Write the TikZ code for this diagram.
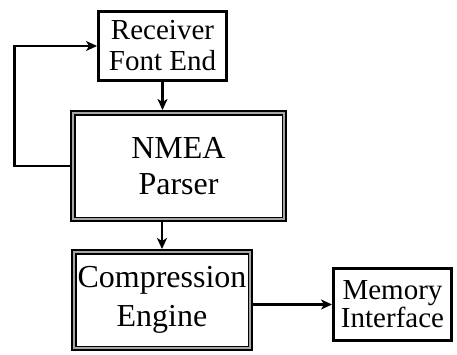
\documentclass[tikz,border=0pt]{standalone}
\usepackage{fontspec}
\setmainfont{Liberation Serif}
\usetikzlibrary{arrows.meta}
\tikzset{
  blk/.style={draw, line width=3pt, inner sep=0pt, align=center},
  bigblk/.style={draw, line width=4pt, inner sep=0pt, align=center},
  arr/.style={line width=2.6pt, -{Stealth[length=11pt, width=10pt, inset=3pt]}},
  fsmall/.style={font=\fontsize{29}{31}\selectfont},
  fbig/.style={font=\fontsize{32}{36}\selectfont},
}
% inner frame of a double-bordered block: gray band, then thin black line
\newcommand{\innerframe}[1]{%
  \draw[gray!70, line width=2pt] ([shift={(3pt,3pt)}]#1.south west) rectangle ([shift={(-3pt,-3pt)}]#1.north east);
  \draw[black, line width=1.4pt] ([shift={(4.8pt,4.8pt)}]#1.south west) rectangle ([shift={(-4.8pt,-4.8pt)}]#1.north east);
}
\begin{document}
\begin{tikzpicture}[x=1pt, y=1pt]
\useasboundingbox (0,0) rectangle (457,354);

\node[blk, fsmall, minimum width=128pt, minimum height=69pt] (rec) at (162.5,308) {Receiver\\Font End};
\node[bigblk, fbig, minimum width=213pt, minimum height=108pt] (nmea) at (178.5,188) {NMEA\\Parser};
\node[bigblk, fbig, font=\fontsize{32}{39}\selectfont, minimum width=178pt, minimum height=98pt] (comp) at (162,54) {Compression\\Engine};
\node[blk, fsmall, font=\fontsize{29}{28}\selectfont, minimum width=118pt, minimum height=72pt] (mem) at (392.5,49.5) {Memory\\Interface};

\innerframe{nmea}
\innerframe{comp}

\coordinate (loop) at (14.5,0);

\draw[arr] (rec.south) -- (rec.south |- nmea.north);
\draw[arr] (nmea.south -| comp.north) -- (comp.north);
\draw[arr] (nmea.west) -- (nmea.west -| loop) |- (rec.west);
\draw[arr] (comp.east |- mem.west) -- (mem.west);
\end{tikzpicture}
\end{document}
